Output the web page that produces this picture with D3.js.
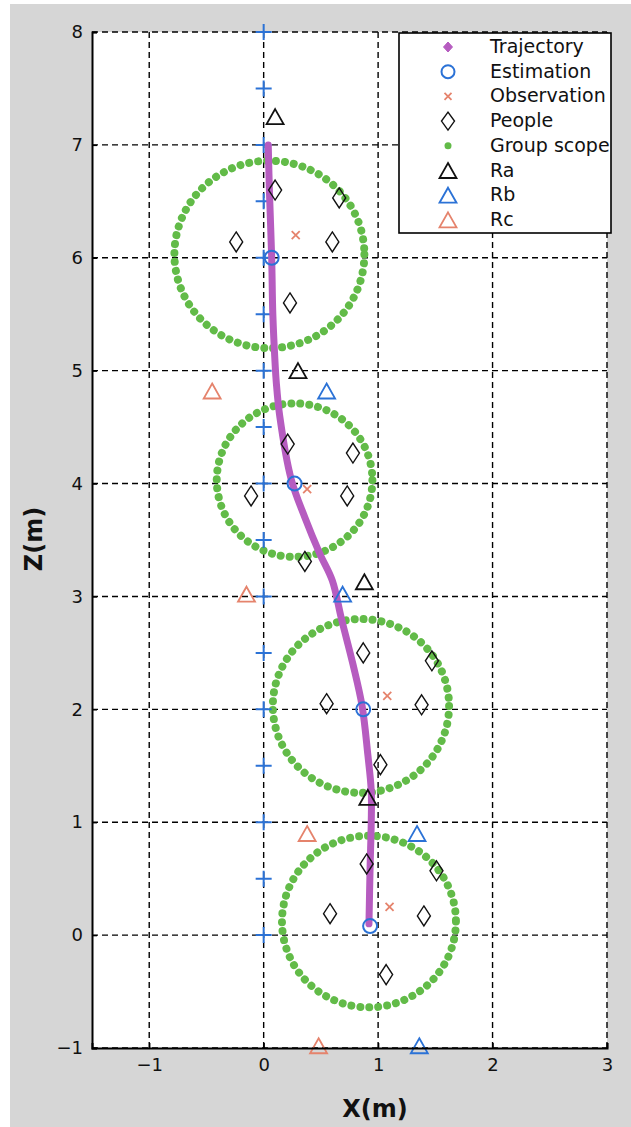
<!DOCTYPE html>
<html><head><meta charset="utf-8">
<script src="https://cdn.jsdelivr.net/npm/d3@7"></script>
<style>body{margin:0;background:#fff}svg{display:block}</style>
</head><body><svg id="c" width="631" height="1127"></svg>
<script>
const xTicks=[-1,0,1,2,3];
const yTicks=[-1,0,1,2,3,4,5,6,7,8];
const trajectory=[[0.04,7.0],[0.05,6.6],[0.07,6.0],[0.08,5.5],[0.1,5.06],[0.11,4.9],[0.14,4.6],[0.24,4.04],[0.36,3.7],[0.49,3.38],[0.6,3.14],[0.68,2.8],[0.78,2.4],[0.86,2.03],[0.91,1.6],[0.94,1.28],[0.94,1.0],[0.93,0.6],[0.92,0.1]];
const estimation=[[0.07,6.0],[0.27,4.0],[0.87,2.0],[0.93,0.08]];
const observation=[[0.28,6.2],[0.38,3.95],[1.08,2.12],[1.1,0.25]];
const people=[[0.1,6.6],[0.66,6.53],[-0.24,6.14],[0.6,6.14],[0.23,5.6],
 [0.21,4.35],[0.78,4.27],[-0.11,3.89],[0.73,3.89],[0.36,3.31],
 [0.87,2.5],[1.47,2.43],[0.55,2.05],[1.38,2.04],[1.02,1.51],
 [0.9,0.63],[1.51,0.57],[0.58,0.19],[1.4,0.17],[1.07,-0.35]];
const groupCenters=[[0.05,6.03],[0.27,4.03],[0.85,2.03],[0.92,0.12]];
const groupRadii=[0.83,0.68,0.77,0.76];
const ra=[[0.1,7.25],[0.3,5.0],[0.88,3.13],[0.91,1.22]];
const rb=[[0.55,4.82],[0.69,3.02],[1.34,0.9],[1.36,-0.98]];
const rc=[[-0.45,4.82],[-0.15,3.02],[0.38,0.9],[0.48,-0.98]];
const crosses=[0,0.5,1,1.5,2,2.5,3,3.5,4,4.5,5,5.5,6,6.5,7,7.5,8];
const legendItems=["Trajectory","Estimation","Observation","People","Group scope","Ra","Rb","Rc"];

const C={purple:"#b65cc0",blue:"#2b72d6",salmon:"#e5836c",green:"#62bb48",black:"#111"};
const svg=d3.select("#c");
const x=d3.scaleLinear([-1.5,3],[92,607]);
const y=d3.scaleLinear([-1,8],[1048,32]);

svg.append("rect").attr("x",10).attr("y",4).attr("width",621).attr("height",1123).attr("fill","#d6d6d6");
svg.append("rect").attr("x",x(-1.5)).attr("y",y(8)).attr("width",x(3)-x(-1.5)).attr("height",y(-1)-y(8)).attr("fill","#fff");

const g=svg.append("g");
g.selectAll(".gx").data(xTicks).join("line").attr("x1",d=>x(d)).attr("x2",d=>x(d)).attr("y1",y(8)).attr("y2",y(-1))
 .attr("stroke","#000").attr("stroke-width",1.4).attr("stroke-dasharray","6,4");
g.selectAll(".gy").data(yTicks).join("line").attr("y1",d=>y(d)).attr("y2",d=>y(d)).attr("x1",x(-1.5)).attr("x2",x(3))
 .attr("stroke","#000").attr("stroke-width",1.4).attr("stroke-dasharray","6,4");

const ax=d3.axisBottom(x).tickValues(xTicks).tickSize(-5).tickPadding(10).tickFormat(d3.format("d"));
const ay=d3.axisLeft(y).tickValues(yTicks).tickSize(-5).tickPadding(9).tickFormat(d3.format("d"));
const gx=svg.append("g").attr("transform",`translate(0,${y(-1)})`).call(ax);
const gy=svg.append("g").attr("transform",`translate(${x(-1.5)},0)`).call(ay);
[gx,gy].forEach(a=>{a.select(".domain").attr("stroke","#000").attr("stroke-width",2);
 a.selectAll("text").attr("font-family","DejaVu Sans, sans-serif").attr("font-size",18).attr("fill","#111");
 a.selectAll(".tick line").attr("stroke","#000").attr("stroke-width",1.4);});
gx.selectAll("text").text(d=>d<0?"\u2212"+Math.abs(d):d);
gy.selectAll("text").text(d=>d<0?"\u2212"+Math.abs(d):d);

svg.append("text").attr("x",375).attr("y",1117).attr("text-anchor","middle").attr("font-family","DejaVu Sans, sans-serif")
 .attr("font-weight","bold").attr("font-size",24).attr("fill","#111").text("X(m)");
svg.append("text").attr("transform",`translate(42,539) rotate(-90)`).attr("text-anchor","middle").attr("font-family","DejaVu Sans, sans-serif")
 .attr("font-weight","bold").attr("font-size",24).attr("fill","#111").text("Z(m)");

g.selectAll(".grp").data(groupCenters).join("ellipse")
 .attr("cx",d=>x(d[0])).attr("cy",d=>y(d[1]))
 .attr("rx",(d,i)=>x(groupRadii[i])-x(0)).attr("ry",(d,i)=>y(0)-y(groupRadii[i]))
 .attr("fill","none").attr("stroke",C.green).attr("stroke-width",8).attr("stroke-linecap","round").attr("stroke-dasharray","0.01 9");

g.selectAll(".cr").data(crosses).join("path")
 .attr("d",d=>`M${x(0)-8},${y(d)}h16M${x(0)},${y(d)-8}v16`).attr("stroke",C.blue).attr("stroke-width",2).attr("fill","none");

g.append("path").datum(trajectory).attr("d",d3.line().x(d=>x(d[0])).y(d=>y(d[1])).curve(d3.curveCatmullRom))
 .attr("fill","none").attr("stroke",C.purple).attr("stroke-width",7).attr("stroke-linecap","round");

const dia=(cx,cy,w,h)=>`M${cx},${cy-h/2}L${cx+w/2},${cy}L${cx},${cy+h/2}L${cx-w/2},${cy}Z`;
g.selectAll(".pp").data(people).join("path").attr("d",d=>dia(x(d[0]),y(d[1]),13,20))
 .attr("fill","none").attr("stroke",C.black).attr("stroke-width",1.4);

const xm=(cx,cy,s)=>`M${cx-s},${cy-s}L${cx+s},${cy+s}M${cx-s},${cy+s}L${cx+s},${cy-s}`;
g.selectAll(".ob").data(observation).join("path").attr("d",d=>xm(x(d[0]),y(d[1]),4))
 .attr("stroke",C.salmon).attr("stroke-width",1.8).attr("fill","none");

g.selectAll(".es").data(estimation).join("circle").attr("cx",d=>x(d[0])).attr("cy",d=>y(d[1])).attr("r",7)
 .attr("fill","none").attr("stroke",C.blue).attr("stroke-width",2);

const tri=(cx,cy,w,h)=>`M${cx},${cy-h/2}L${cx+w/2},${cy+h/2}L${cx-w/2},${cy+h/2}Z`;
[[ra,C.black],[rb,C.blue],[rc,C.salmon]].forEach(([arr,col])=>{
 g.selectAll(null).data(arr).join("path").attr("d",d=>tri(x(d[0]),y(d[1]),17,15))
  .attr("fill","none").attr("stroke",col).attr("stroke-width",1.8);
});

const L=svg.append("g");
L.append("rect").attr("x",399).attr("y",33).attr("width",212).attr("height",200).attr("fill","#fff").attr("stroke","#000").attr("stroke-width",1.6);
const ly=i=>47+i*24.7, sx=448;
legendItems.forEach((t,i)=>{
 L.append("text").attr("x",490).attr("y",ly(i)+6).attr("font-family","DejaVu Sans, sans-serif").attr("font-size",19).attr("fill","#111").text(t);
});
L.append("path").attr("d",dia(sx,ly(0),9,10)).attr("fill",C.purple).attr("stroke",C.purple);
L.append("circle").attr("cx",sx).attr("cy",ly(1)).attr("r",6.5).attr("fill","none").attr("stroke",C.blue).attr("stroke-width",2);
L.append("path").attr("d",xm(sx,ly(2),3.5)).attr("stroke",C.salmon).attr("stroke-width",1.8);
L.append("path").attr("d",dia(sx,ly(3),13,18)).attr("fill","none").attr("stroke",C.black).attr("stroke-width",1.4);
L.append("circle").attr("cx",sx).attr("cy",ly(4)).attr("r",3.5).attr("fill",C.green);
[[5,C.black],[6,C.blue],[7,C.salmon]].forEach(([i,c])=>L.append("path").attr("d",tri(sx,ly(i),17,15)).attr("fill","none").attr("stroke",c).attr("stroke-width",1.8));
</script></body></html>
